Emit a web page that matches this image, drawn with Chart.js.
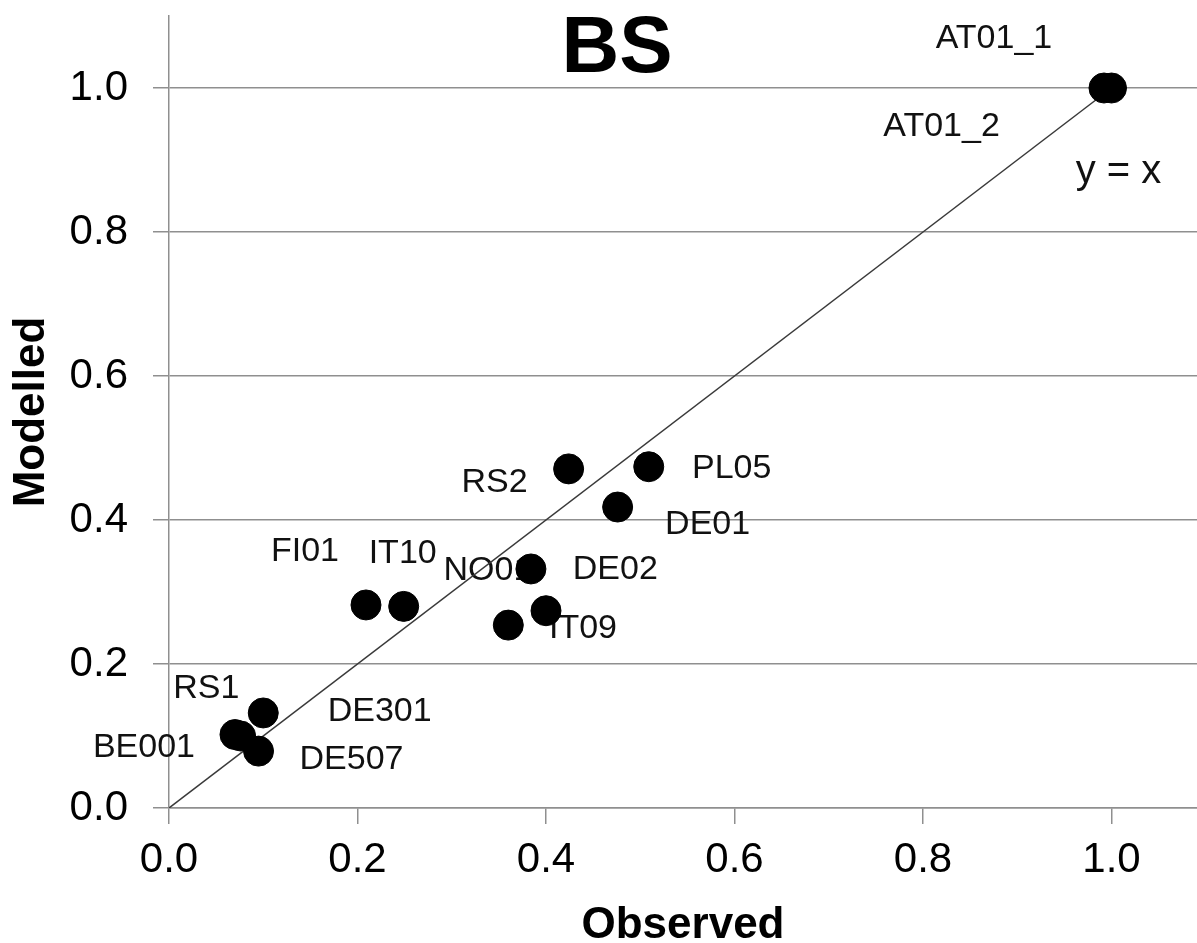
<!DOCTYPE html>
<html>
<head>
<meta charset="utf-8">
<script src="https://cdn.jsdelivr.net/npm/chart.js@4/dist/chart.umd.min.js"></script>
<style>
  html, body { margin: 0; padding: 0; background: #fff; overflow: hidden; }
  canvas { display: block; }
</style>
</head>
<body>
<canvas id="bsChart" width="1197" height="943"></canvas>
<script>
// sites and their observed / modelled values
const sites    = ['AT01_1', 'AT01_2', 'RS2', 'PL05', 'DE01', 'FI01', 'IT10', 'NO01', 'DE02', 'IT09', 'RS1', 'DE301', 'BE001', 'DE507'];
const observed = [0.992, 1.000, 0.424, 0.509, 0.476, 0.209, 0.249, 0.384, 0.360, 0.400, 0.100, 0.076, 0.070, 0.095];
const modelled = [1.000, 1.000, 0.471, 0.474, 0.418, 0.282, 0.280, 0.332, 0.254, 0.274, 0.132, 0.100, 0.102, 0.079];
const xTicks = [0, 0.2, 0.4, 0.6, 0.8, 1.0];
const yTicks = [0, 0.2, 0.4, 0.6, 0.8, 1.0];
const identityLine = [0, 1];

// where each label sits relative to its point (px)
const labelOffsets = [
    [-110, -49], [-170, 39], [-74, 14], [83, 2], [90, 18], [-61, -53], [-1, -53],
    [-43, 2], [107, -55], [37, 18], [-57, -24], [139, -24], [-91, 13], [93, 9]
];

const gridGray = '#8f8f8f';
const fontFamily = '"Liberation Sans", Arial, sans-serif';
const zeroPad = s => { s.paddingLeft = 0; s.paddingRight = 0; s.paddingTop = 0; s.paddingBottom = 0; };

const labelPlugin = {
    id: 'pointLabels',
    beforeDatasetsDraw(chart) {
        const ctx = chart.ctx;
        const xs = chart.scales.x, ys = chart.scales.y;
        ctx.save();
        ctx.fillStyle = '#111';
        ctx.font = '34px ' + fontFamily;
        ctx.textAlign = 'center';
        ctx.textBaseline = 'middle';
        sites.forEach((name, i) => {
            const px = xs.getPixelForValue(observed[i]) + labelOffsets[i][0];
            const py = ys.getPixelForValue(modelled[i]) + labelOffsets[i][1];
            ctx.fillText(name, px, py);
        });
        // y = x annotation near the top end of the line
        ctx.font = '40px ' + fontFamily;
        ctx.fillText('y = x', xs.getPixelForValue(1) + 7, ys.getPixelForValue(1) + 84);
        // chart title
        ctx.font = 'bold 80px ' + fontFamily;
        ctx.fillStyle = '#000';
        ctx.fillText('BS', 617, 50);
        ctx.restore();
    }
};

new Chart(document.getElementById('bsChart'), {
    type: 'scatter',
    data: {
        datasets: [{
            label: 'BS',
            data: observed.map((v, i) => ({ x: v, y: modelled[i] })),
            backgroundColor: '#000',
            borderColor: '#000',
            pointRadius: 15,
            pointHoverRadius: 15,
            order: 0
        }, {
            type: 'line',
            label: 'y = x',
            data: identityLine.map(v => ({ x: v, y: v })),
            borderColor: '#3a3a3a',
            borderWidth: 1.5,
            pointRadius: 0,
            fill: false,
            order: 1
        }]
    },
    options: {
        responsive: false,
        animation: false,
        layout: { autoPadding: false, padding: { top: 16, right: 0, left: 0, bottom: 0 } },
        plugins: {
            legend: { display: false },
            tooltip: { enabled: false }
        },
        scales: {
            x: {
                type: 'linear',
                min: 0,
                max: 1.0907,
                afterBuildTicks: scale => { scale.ticks = xTicks.map(v => ({ value: v })); },
                afterFit: scale => { scale.height = 135; zeroPad(scale); },
                grid: { drawOnChartArea: false, drawTicks: true, tickLength: 16, color: gridGray, lineWidth: 1.5 },
                border: { display: true, color: gridGray, width: 1.5 },
                ticks: {
                    color: '#000',
                    padding: 11,
                    maxRotation: 0,
                    font: { family: fontFamily, size: 42 },
                    callback: v => v.toFixed(1)
                },
                title: {
                    display: true,
                    text: 'Observed',
                    color: '#000',
                    padding: 0,
                    font: { family: fontFamily, size: 44, weight: 'bold', lineHeight: 0.8 }
                }
            },
            y: {
                type: 'linear',
                min: 0,
                max: 1.1,
                afterBuildTicks: scale => { scale.ticks = yTicks.map(v => ({ value: v })); },
                afterFit: scale => { scale.width = 169; zeroPad(scale); },
                grid: { drawOnChartArea: true, drawTicks: true, tickLength: 16, color: gridGray, lineWidth: 1.5 },
                border: { display: true, color: gridGray, width: 1.5 },
                ticks: {
                    color: '#000',
                    padding: 25,
                    font: { family: fontFamily, size: 42 },
                    callback: v => v.toFixed(1)
                },
                title: {
                    display: true,
                    text: 'Modelled',
                    color: '#000',
                    padding: 10,
                    font: { family: fontFamily, size: 44, weight: 'bold', lineHeight: 1 }
                }
            }
        }
    },
    plugins: [labelPlugin]
});
</script>
</body>
</html>
